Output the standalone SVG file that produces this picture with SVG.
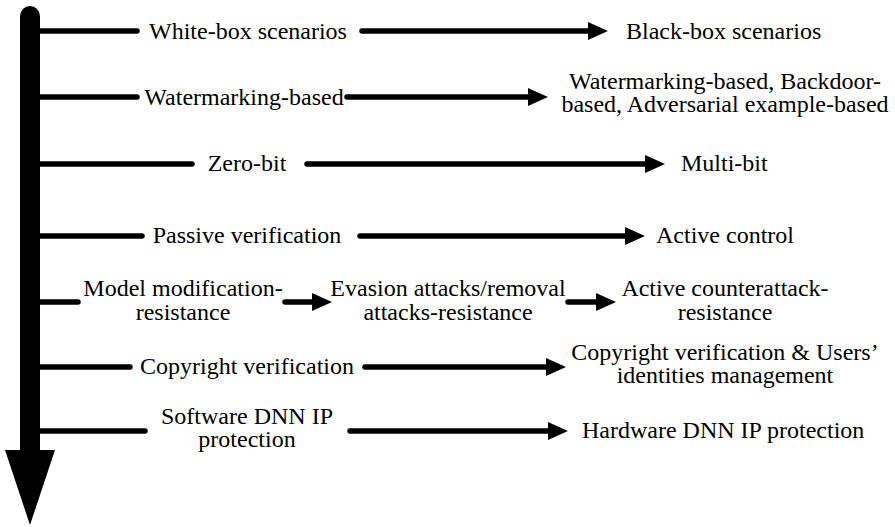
<svg xmlns="http://www.w3.org/2000/svg" width="895" height="527" viewBox="0 0 895 527">
<style>
text{font-family:'Liberation Serif','Times New Roman',serif;font-size:24px;fill:#000}
.m{text-anchor:middle}
.ln{stroke:#000;stroke-width:5.5;stroke-linecap:round;fill:none}
.ar{stroke:#000;stroke-width:5.5;stroke-linecap:round;fill:none;marker-end:url(#ah)}
</style>
<defs>
<marker id="ah" markerUnits="userSpaceOnUse" viewBox="0 0 20 18" markerWidth="20" markerHeight="18" refX="2" refY="9" orient="auto">
<path d="M0,0 L20,9 L0,18 Z" fill="#000"/>
</marker>
</defs>
<g id="timeline">
<path d="M20,450 L20,16 A10,10 0 0 1 40,16 L40,450 Z" fill="#000"/>
<path d="M5,450 L55,450 L30,525 Z" fill="#000"/>
</g>
<g id="connectors">
<line class="ln" x1="38" y1="31" x2="137" y2="31"/>
<line class="ar" x1="362" y1="31" x2="590" y2="31"/>
<line class="ln" x1="38" y1="97" x2="137" y2="97"/>
<line class="ar" x1="347" y1="97" x2="530" y2="97"/>
<line class="ln" x1="38" y1="164" x2="192" y2="164"/>
<line class="ar" x1="307" y1="164" x2="647" y2="164"/>
<line class="ln" x1="38" y1="236" x2="142" y2="236"/>
<line class="ar" x1="360" y1="236" x2="627" y2="236"/>
<line class="ln" x1="38" y1="302" x2="78" y2="302"/>
<line class="ar" x1="285" y1="302" x2="314" y2="302"/>
<line class="ar" x1="568" y1="302" x2="598" y2="302"/>
<line class="ln" x1="38" y1="367" x2="130" y2="367"/>
<line class="ar" x1="365" y1="367" x2="548" y2="367"/>
<line class="ln" x1="38" y1="431" x2="145" y2="431"/>
<line class="ar" x1="350" y1="431" x2="550" y2="431"/>
</g>
<g id="n1a"><text class="m" x="248" y="39">White-box scenarios</text></g>
<g id="n1b"><text x="626" y="39">Black-box scenarios</text></g>
<g id="n2a"><text class="m" x="244" y="105">Watermarking-based</text></g>
<g id="n2b"><text class="m" x="725" y="89">Watermarking-based, Backdoor-</text><text class="m" x="725" y="112">based, Adversarial example-based</text></g>
<g id="n3a"><text class="m" x="247" y="171">Zero-bit</text></g>
<g id="n3b"><text x="681" y="171">Multi-bit</text></g>
<g id="n4a"><text class="m" x="247" y="243">Passive verification</text></g>
<g id="n4b"><text x="656" y="243">Active control</text></g>
<g id="n5a"><text class="m" x="183" y="296">Model modification-</text><text class="m" x="183" y="320">resistance</text></g>
<g id="n5b"><text class="m" x="448" y="296">Evasion attacks/removal</text><text class="m" x="448" y="320">attacks-resistance</text></g>
<g id="n5c"><text class="m" x="725" y="296">Active counterattack-</text><text class="m" x="725" y="320">resistance</text></g>
<g id="n6a"><text class="m" x="247" y="374">Copyright verification</text></g>
<g id="n6b"><text class="m" x="725" y="360">Copyright verification &amp; Users’</text><text class="m" x="725" y="383">identities management</text></g>
<g id="n7a"><text class="m" x="247" y="424">Software DNN IP</text><text class="m" x="247" y="447">protection</text></g>
<g id="n7b"><text x="582" y="438">Hardware DNN IP protection</text></g>
</svg>
